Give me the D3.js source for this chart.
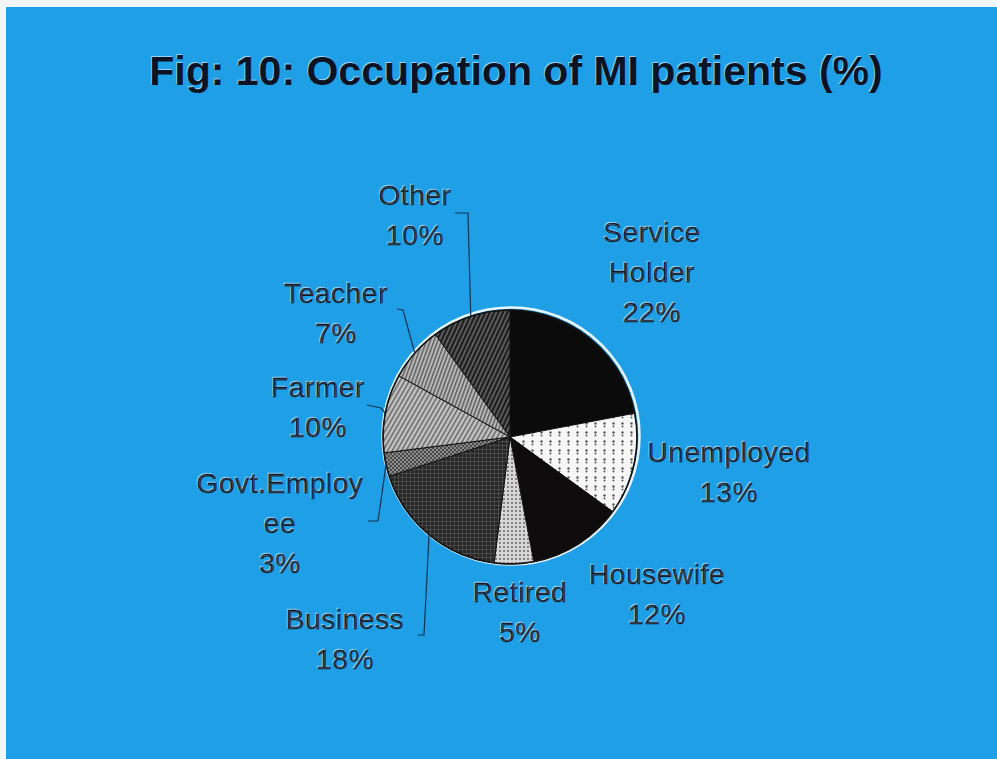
<!DOCTYPE html>
<html lang="en">
<head>
<meta charset="UTF-8">
<title>Occupation of MI patients</title>
<script src="https://d3js.org/d3.v7.min.js"></script>
<style>
  html, body { margin: 0; padding: 0; background: #f4f6f8; }
  svg { display: block; font-family: 'Liberation Sans', Arial, sans-serif; }
  .lbl { font-size: 28px; letter-spacing: 0.6px; fill: #0c1a2c; stroke: #0c1a2c; stroke-width: 0.35px;
         text-shadow: -1px -1px 0 rgba(235,245,255,0.55); }
  .title { font-size: 41px; font-weight: bold; fill: #0a1424; text-shadow: -1px -1px 0 rgba(235,245,255,0.6); }
  .leader { fill: none; stroke: #123456; stroke-width: 1.2px; }
</style>
</head>
<body>
<script>
// data, clockwise from 12 o'clock
const categories = ["Service Holder", "Unemployed", "Housewife", "Retired", "Business",
                    "Govt.Employee", "Farmer", "Teacher", "Other"];
const percents = [22, 13, 12, 5, 18, 3, 10, 7, 10];
// label lines as they are broken in the picture
const labelLines = [["Service", "Holder"], ["Unemployed"], ["Housewife"], ["Retired"], ["Business"],
                    ["Govt.Employ", "ee"], ["Farmer"], ["Teacher"], ["Other"]];

const W = 997, H = 759;
const cx = 510, cy = 437, R = 127;

// label placement: first line centre, and leader elbow / end (null = no leader)
const labelPos = [
  { x: 652, y: 232 },
  { x: 729, y: 452 },
  { x: 657, y: 574 },
  { x: 520, y: 592 },
  { x: 345, y: 619, elbow: [424, 635], end: [418, 635] },
  { x: 280, y: 483, elbow: [378, 521], end: [368, 521] },
  { x: 318, y: 387, elbow: [381, 408], end: [367, 405] },
  { x: 336, y: 293, elbow: [403, 310], end: [397, 309] },
  { x: 415, y: 195, elbow: [468, 213], end: [455, 213] }
];

const svg = d3.select("body").append("svg")
  .attr("width", W).attr("height", H);

const defs = svg.append("defs");

function stripes(id, bg, fg, size, w, angle) {
  const p = defs.append("pattern").attr("id", id)
    .attr("patternUnits", "userSpaceOnUse").attr("width", size).attr("height", size)
    .attr("patternTransform", "rotate(" + angle + ")");
  p.append("rect").attr("width", size).attr("height", size).attr("fill", bg);
  p.append("rect").attr("width", w).attr("height", size).attr("fill", fg);
}
function dots(id, bg, fg, size, r, dy) {
  const p = defs.append("pattern").attr("id", id)
    .attr("patternUnits", "userSpaceOnUse").attr("width", size).attr("height", size);
  p.append("rect").attr("width", size).attr("height", size).attr("fill", bg);
  p.append("circle").attr("cx", size / 2).attr("cy", size / 2).attr("r", r).attr("fill", fg);
  if (dy) p.append("circle").attr("cx", size / 2).attr("cy", size / 2 + dy).attr("r", r * 0.8).attr("fill", fg);
}
function grid(id, bg, fg, size) {
  const p = defs.append("pattern").attr("id", id)
    .attr("patternUnits", "userSpaceOnUse").attr("width", size).attr("height", size);
  p.append("rect").attr("width", size).attr("height", size).attr("fill", bg);
  p.append("rect").attr("width", size).attr("height", 1).attr("fill", fg);
  p.append("rect").attr("width", 1).attr("height", size).attr("fill", fg);
}
function checker(id, a, b, size) {
  const p = defs.append("pattern").attr("id", id)
    .attr("patternUnits", "userSpaceOnUse").attr("width", size * 2).attr("height", size * 2);
  p.append("rect").attr("width", size * 2).attr("height", size * 2).attr("fill", a);
  p.append("rect").attr("width", size).attr("height", size).attr("fill", b);
  p.append("rect").attr("x", size).attr("y", size).attr("width", size).attr("height", size).attr("fill", b);
}

dots("pUnemp", "#f6f6f6", "#555", 9, 1.2, 3);
dots("pRet", "#d6d6d6", "#5a5a5a", 4, 0.9);
grid("pBus", "#262626", "#4a4a4a", 4);
checker("pGov", "#8a8a8a", "#4a4a4a", 2);
stripes("pFarm", "#c4c4c4", "#6a6a6a", 4, 1.6, 30);
stripes("pTeach", "#b8b8b8", "#5a5a5a", 3.5, 1.4, 20);
stripes("pOther", "#5a5a5a", "#1c1c1c", 4, 2, 25);

const fills = ["#0b0b0b", "url(#pUnemp)", "#0e0c0c", "url(#pRet)", "url(#pBus)",
               "url(#pGov)", "url(#pFarm)", "url(#pTeach)", "url(#pOther)"];

// background
svg.append("rect").attr("width", W).attr("height", H).attr("fill", "#f3f6f9");
svg.append("rect").attr("x", 6).attr("y", 7).attr("width", W - 6).attr("height", H - 7)
  .attr("fill", "#1f9fe6");

svg.append("text").attr("class", "title")
  .attr("x", 516).attr("y", 85).attr("text-anchor", "middle")
  .text("Fig: 10: Occupation of MI patients (%)");

const rows = categories.map((c, i) => ({ name: c, value: percents[i], lines: labelLines[i], pos: labelPos[i] }));

const pie = d3.pie().value(d => d.value).sort(null);
const arc = d3.arc().innerRadius(0).outerRadius(R);
const arcs = pie(rows);

const g = svg.append("g").attr("transform", "translate(" + cx + "," + cy + ")");

// light rim highlight
g.append("circle").attr("r", R + 1.5).attr("fill", "none")
  .attr("stroke", "#e8f4ff").attr("stroke-width", 2.5)
  .attr("transform", "translate(1,-1)");

g.selectAll("path.slice").data(arcs).enter().append("path")
  .attr("class", "slice")
  .attr("d", arc)
  .attr("fill", (d, i) => fills[i])
  .attr("stroke", "#111")
  .attr("stroke-width", 1);

g.append("circle").attr("r", R).attr("fill", "none").attr("stroke", "#151515").attr("stroke-width", 1.6);

// leader lines
arcs.forEach(d => {
  const p = d.data.pos;
  if (!p.elbow) return;
  const a = (d.startAngle + d.endAngle) / 2;
  const sx = cx + R * Math.sin(a), sy = cy - R * Math.cos(a);
  svg.append("path").attr("class", "leader")
    .attr("d", d3.line()([[sx, sy], p.elbow, p.end]));
});

// labels
const lineH = 40;
arcs.forEach(d => {
  const p = d.data.pos;
  const t = svg.append("text").attr("class", "lbl").attr("text-anchor", "middle");
  const lines = d.data.lines.concat([d.data.value + "%"]);
  lines.forEach((s, k) => {
    t.append("tspan").attr("x", p.x).attr("y", p.y + 10 + k * lineH).text(s);
  });
});
</script>
</body>
</html>
